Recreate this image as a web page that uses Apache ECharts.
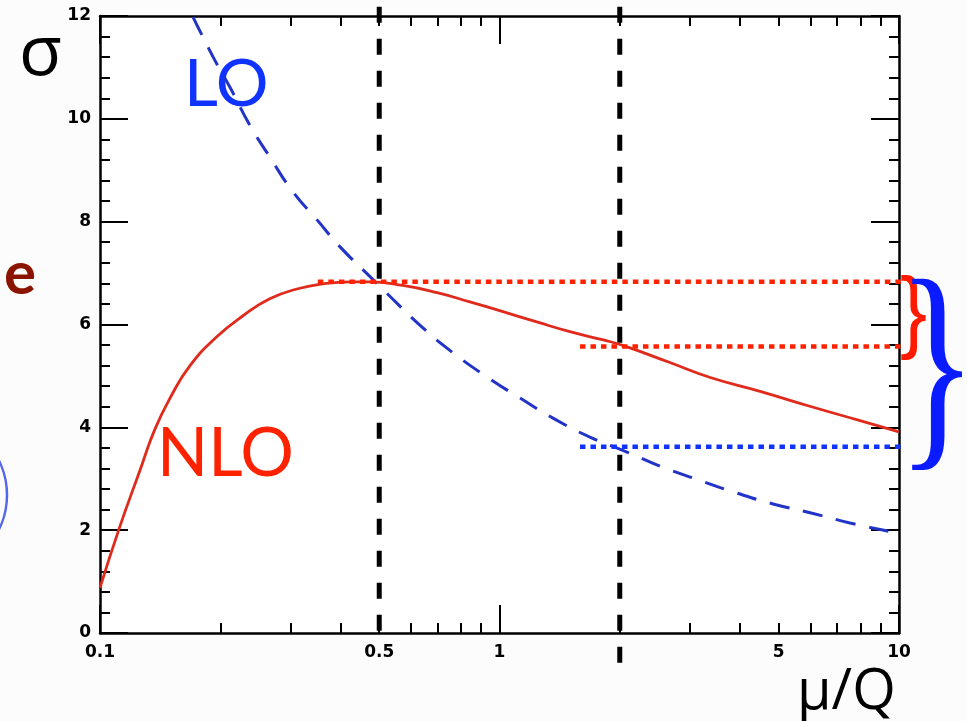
<!DOCTYPE html>
<html>
<head>
<meta charset="utf-8">
<script src="https://cdn.jsdelivr.net/npm/echarts@6/dist/echarts.min.js"></script>
<style>
html,body{margin:0;padding:0;background:#fcfcfc;}
#c{width:967px;height:721px;}
</style>
</head>
<body>
<div id="c"></div>
<script>
// ---- data ----
const nloX = [0.1, 0.112, 0.126, 0.137, 0.15, 0.168, 0.196, 0.228, 0.266, 0.311, 0.361, 0.423, 0.474, 0.573, 0.698, 0.843, 1.02, 1.24, 1.5, 1.82, 2.06, 2.67, 3.37, 4.49, 5.98, 7.99, 10];
const nloY = [0.88, 2.06, 3.17, 3.95, 4.58, 5.20, 5.76, 6.17, 6.50, 6.69, 6.79, 6.83, 6.83, 6.76, 6.62, 6.44, 6.25, 6.05, 5.86, 5.70, 5.58, 5.26, 4.97, 4.70, 4.41, 4.13, 3.91];
const loX = [0.171, 0.192, 0.212, 0.237, 0.266, 0.304, 0.349, 0.399, 0.483, 0.511, 0.644, 0.765, 0.93, 1.125, 1.361, 1.684, 2.085, 2.55, 3.14, 3.93, 4.84, 6.06, 7.54, 9.66, 10];
const loY = [11.98, 11.2, 10.6, 9.88, 9.26, 8.58, 8.04, 7.51, 6.87, 6.68, 5.93, 5.45, 4.98, 4.57, 4.18, 3.81, 3.52, 3.23, 2.98, 2.72, 2.51, 2.33, 2.14, 1.96, 1.93];
const scaleChoices = [0.5, 2];           // vertical dashed lines (mu/Q)
const scaleLineTop = 12.18;
const scaleLineBottom = [0, -0.58];
const nloBand = [6.83, 5.57];            // red dotted levels
const loLevel = 3.62;                    // blue dotted level
const bandStartX = [0.351, 1.59, 1.59];
const bandEndX = 11.8;
const xLabelValues = [0.1, 0.5, 1, 5, 10];
const xMajorTicks = [0.1, 1, 10];
const xMinorTicks = [0.2, 0.3, 0.4, 0.5, 0.6, 0.7, 0.8, 0.9, 2, 3, 4, 5, 6, 7, 8, 9];
const yMin = 0, yMax = 12, yStep = 2;

const chart = echarts.init(document.getElementById('c'), null, {renderer: 'canvas'});
const axisLineStyle = {color: '#000', width: 2.5};
const tickFont = {color: '#000', fontFamily: 'DejaVu Sans', fontWeight: 'bold', fontSize: 17};

function xAx(pos, ticks, len, showLine, labels) {
  return {
    type: 'log', logBase: 10, min: 0.1, max: 10, position: pos, gridIndex: 0,
    axisLine: {show: showLine, onZero: false, lineStyle: axisLineStyle},
    axisTick: {show: true, inside: true, length: len, customValues: ticks, lineStyle: {color: '#000', width: 2}},
    axisLabel: labels ? Object.assign({show: true, margin: 11, customValues: labels,
      formatter: v => String(v)}, tickFont) : {show: false},
    splitLine: {show: false}, minorTick: {show: false}, minorSplitLine: {show: false}
  };
}
function yAx(pos, labels) {
  return {
    type: 'value', min: yMin, max: yMax, interval: yStep, position: pos,
    axisLine: {show: true, onZero: false, lineStyle: axisLineStyle},
    axisTick: {show: true, inside: true, length: 28, lineStyle: {color: '#000', width: 2}},
    minorTick: {show: true, splitNumber: 5, length: 10, lineStyle: {color: '#000', width: 2}},
    axisLabel: labels ? Object.assign({show: true, margin: 9}, tickFont) : {show: false},
    splitLine: {show: false}
  };
}

const series = [];
scaleChoices.forEach((x, i) => {
  series.push({
    type: 'line', xAxisIndex: 0, yAxisIndex: 0, clip: false, silent: true, showSymbol: false, z: 1,
    data: [[x, scaleLineTop], [x, scaleLineBottom[i]]],
    lineStyle: {color: '#000', width: 5, type: [16, 16], cap: 'butt'}
  });
});
series.push({
  name: 'LO', type: 'line', xAxisIndex: 0, yAxisIndex: 0, showSymbol: false, smooth: 0.5, z: 3, clip: false,
  data: loX.map((x, i) => [x, loY[i]]),
  lineStyle: {color: '#2233c8', width: 3, type: [20, 14]}
});
series.push({
  name: 'NLO', type: 'line', xAxisIndex: 0, yAxisIndex: 0, showSymbol: false, smooth: 0.5, z: 3,
  data: nloX.map((x, i) => [x, nloY[i]]),
  lineStyle: {color: '#e02a1c', width: 2.8}
});
const levels = [nloBand[0], nloBand[1], loLevel];
const levelColors = ['#ff2200', '#ff2200', '#1133ff'];
levels.forEach((y, i) => {
  series.push({
    type: 'line', xAxisIndex: 0, yAxisIndex: 0, clip: false, silent: true, showSymbol: false, z: 4,
    data: [[bandStartX[i], y], [bandEndX, y]],
    lineStyle: {color: levelColors[i], width: 4.5, type: [5.5, 5], cap: 'butt'}
  });
});

const option = {
  backgroundColor: '#fcfcfc',
  animation: false,
  grid: {left: 100, right: 68, top: 16, bottom: 88, show: true, backgroundColor: '#ffffff', borderWidth: 0, containLabel: false},
  xAxis: [
    xAx('bottom', xMajorTicks, 28, true, xLabelValues),
    xAx('bottom', xMinorTicks, 10, false, null),
    xAx('top', xMajorTicks, 28, true, null),
    xAx('top', xMinorTicks, 10, false, null)
  ],
  yAxis: [yAx('left', true), yAx('right', false)],
  series: series,
  graphic: [
    {type: 'text', x: 19, y: 55, style: {text: 'σ', font: '70px "Open Sans"', fill: '#000', textVerticalAlign: 'middle'}},
    {type: 'text', x: 184, y: 85, style: {text: 'LO', font: '66px Lato', fill: '#1133ff', textVerticalAlign: 'middle'}},
    {type: 'text', x: 157, y: 454, style: {text: 'NLO', font: '67px Lato', fill: '#ff2200', textVerticalAlign: 'middle'}},
    {type: 'text', x: 36, y: 275, style: {text: 'e', font: 'bold 60px Lato', fill: '#8b1400', textAlign: 'right', textVerticalAlign: 'middle'}},
    {type: 'text', x: 797, y: 693, style: {text: 'μ/Q', font: '56px "Open Sans"', fill: '#000', textVerticalAlign: 'middle'}},
    {type: 'text', x: 900, y: 316, scaleX: 0.9, style: {text: '}', font: '90px "Liberation Sans"', fill: '#ff1a00', textVerticalAlign: 'middle'}},
    {type: 'text', x: 897, y: 378, scaleX: 0.72, style: {text: '}', font: '232px "Liberation Serif"', fill: '#0a1cff', textVerticalAlign: 'middle'}},
    {type: 'circle', shape: {cx: -70, cy: 495, r: 77}, style: {fill: 'none', stroke: '#5566ee', lineWidth: 2.5}}
  ]
};
chart.setOption(option);
</script>
</body>
</html>
